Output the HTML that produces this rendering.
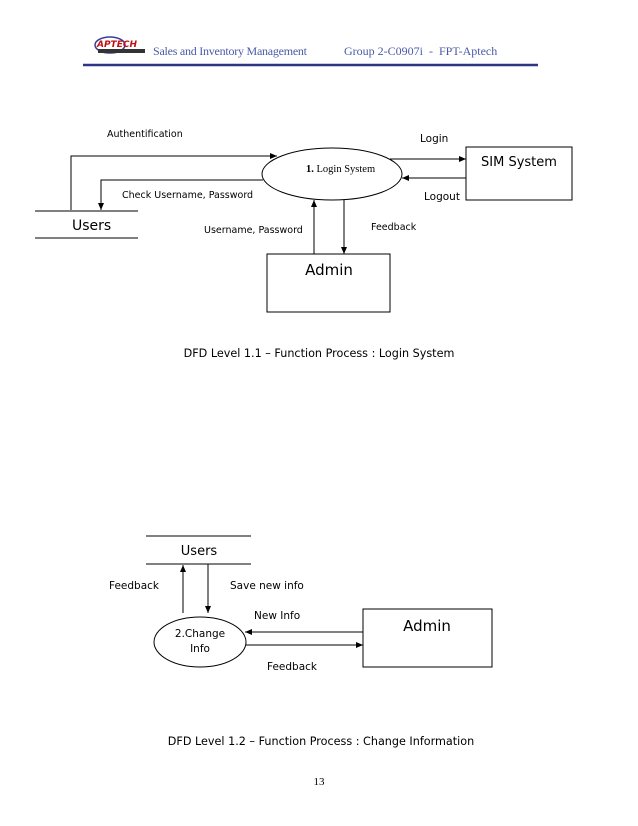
<!DOCTYPE html>
<html><head><meta charset="utf-8"><style>
html,body{margin:0;padding:0;background:#fff;}
svg{display:block;}
.s{font-family:"DejaVu Sans","Liberation Sans",sans-serif;fill:#000;}
.r{font-family:"Liberation Serif",serif;}
</style></head><body>
<svg width="638" height="826" viewBox="0 0 638 826" xmlns="http://www.w3.org/2000/svg">
<defs><marker id="a" markerWidth="8" markerHeight="8" refX="7" refY="4" orient="auto" markerUnits="userSpaceOnUse"><path d="M0,1 L7,4 L0,7 Z" fill="#000"/></marker></defs>
<!-- header -->
<ellipse cx="110" cy="45" rx="15" ry="8" fill="none" stroke="#3a3d9a" stroke-width="1.5"/>
<text x="97" y="47" class="s" font-size="9" font-weight="bold" font-style="italic" style="fill:#c01010">APTECH</text>
<rect x="98" y="49" width="47" height="4" fill="#333"/>
<text x="153" y="55" class="r" font-size="12" fill="#4a5aa8" textLength="154">Sales and Inventory Management</text>
<text x="344" y="55" class="r" font-size="12" fill="#4a5aa8">Group 2-C0907i&#160;&#160;-&#160;&#160;FPT-Aptech</text>
<line x1="83" y1="65" x2="538" y2="65" stroke="#2e3585" stroke-width="2.5"/>
<!-- diagram 1 -->
<g stroke="#000" stroke-width="1" fill="none">
<ellipse cx="332" cy="174" rx="70" ry="26"/>
<rect x="466" y="147" width="106" height="53"/>
<rect x="267" y="254" width="123" height="58"/>
<line x1="35" y1="211" x2="138" y2="211"/>
<line x1="35" y1="238" x2="138" y2="238"/>
<polyline points="71,210 71,156 277,156" marker-end="url(#a)"/>
<polyline points="263,180 101,180 101,210" marker-end="url(#a)"/>
<line x1="390" y1="159" x2="466" y2="159" marker-end="url(#a)"/>
<line x1="466" y1="178" x2="402" y2="178" marker-end="url(#a)"/>
<line x1="314" y1="254" x2="314" y2="200" marker-end="url(#a)"/>
<line x1="344" y1="200" x2="344" y2="254" marker-end="url(#a)"/>
</g>
<text x="107" y="137" class="s" font-size="9.5">Authentification</text>
<text x="122" y="198" class="s" font-size="9.5">Check Username, Password</text>
<text x="204" y="233" class="s" font-size="9.5">Username, Password</text>
<text x="371" y="230" class="s" font-size="9.5">Feedback</text>
<text x="420" y="142" class="s" font-size="10.5">Login</text>
<text x="424" y="200" class="s" font-size="10.5">Logout</text>
<text x="306" y="172" class="r" font-size="10.5"><tspan font-weight="bold">1.</tspan> Login System</text>
<text x="72" y="230" class="s" font-size="14">Users</text>
<text x="519" y="166" class="s" font-size="13" text-anchor="middle">SIM System</text>
<text x="329" y="275" class="s" font-size="15" text-anchor="middle">Admin</text>
<text x="319" y="357" class="s" font-size="11.2" text-anchor="middle">DFD Level 1.1 – Function Process : Login System</text>
<!-- diagram 2 -->
<g stroke="#000" stroke-width="1" fill="none">
<line x1="146" y1="536" x2="251" y2="536"/>
<line x1="146" y1="564" x2="251" y2="564"/>
<ellipse cx="200" cy="642" rx="46" ry="25"/>
<rect x="363" y="609" width="129" height="58"/>
<line x1="183" y1="613" x2="183" y2="565" marker-end="url(#a)"/>
<line x1="208" y1="564" x2="208" y2="613" marker-end="url(#a)"/>
<line x1="363" y1="632" x2="245" y2="632" marker-end="url(#a)"/>
<line x1="246" y1="645" x2="363" y2="645" marker-end="url(#a)"/>
</g>
<text x="199" y="555" class="s" font-size="13" text-anchor="middle">Users</text>
<text x="109" y="589" class="s" font-size="10.5">Feedback</text>
<text x="230" y="589" class="s" font-size="10.5">Save new info</text>
<text x="254" y="619" class="s" font-size="10.5">New Info</text>
<text x="267" y="670" class="s" font-size="10.5">Feedback</text>
<text x="200" y="637" class="s" font-size="10.5" text-anchor="middle">2.Change</text>
<text x="200" y="652" class="s" font-size="10.5" text-anchor="middle">Info</text>
<text x="427" y="631" class="s" font-size="15" text-anchor="middle">Admin</text>
<text x="321" y="745" class="s" font-size="11.2" text-anchor="middle">DFD Level 1.2 – Function Process : Change Information</text>
<text x="319" y="785" class="r" font-size="11" text-anchor="middle">13</text>
</svg>
</body></html>
